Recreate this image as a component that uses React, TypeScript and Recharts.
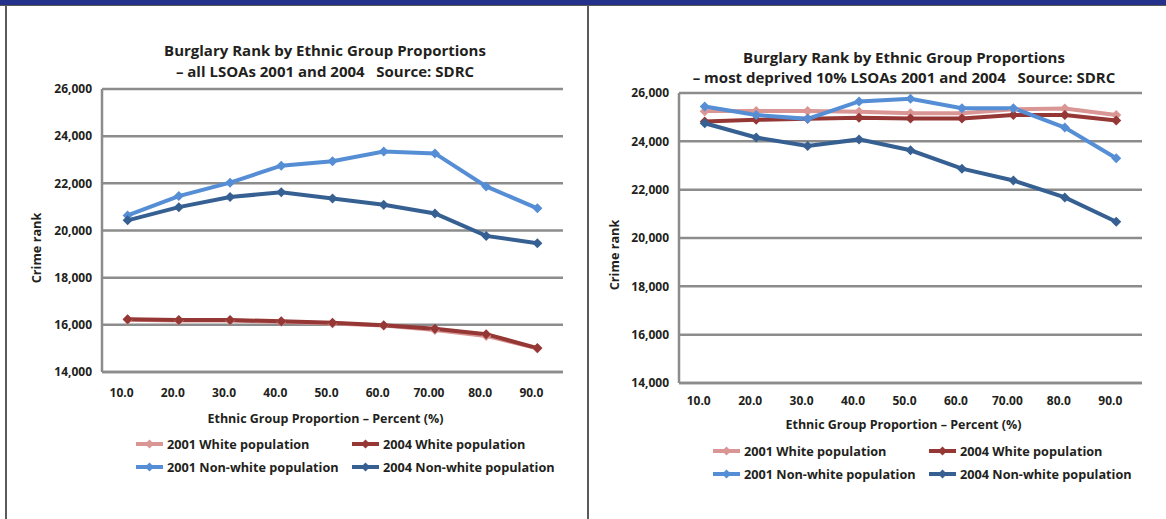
import { LineChart, Line, XAxis, YAxis, CartesianGrid, Label } from 'recharts';

const categories = ['10.0', '20.0', '30.0', '40.0', '50.0', '60.0', '70.00', '80.0', '90.0'];
const yTicks = [14000, 16000, 18000, 20000, 22000, 24000, 26000];

// all LSOAs
const allWhite2001 = [16220, 16180, 16180, 16130, 16060, 15970, 15780, 15530, 15000];
const allWhite2004 = [16240, 16200, 16200, 16155, 16085, 15985, 15830, 15605, 15015];
const allNonWhite2001 = [20640, 21460, 22030, 22750, 22940, 23350, 23270, 21870, 20940];
const allNonWhite2004 = [20430, 20990, 21420, 21620, 21360, 21090, 20720, 19770, 19460];

// most deprived 10% LSOAs
const depWhite2001 = [25250, 25260, 25260, 25220, 25160, 25160, 25330, 25360, 25090];
const depWhite2004 = [24820, 24890, 24930, 24980, 24940, 24940, 25090, 25090, 24860];
const depNonWhite2001 = [25440, 25090, 24930, 25650, 25760, 25370, 25370, 24570, 23300];
const depNonWhite2004 = [24750, 24160, 23810, 24080, 23630, 22870, 22380, 21680, 20670];

const seriesNames = ['2001 White population', '2004 White population', '2001 Non-white population', '2004 Non-white population'];
const seriesColors = ['#d99694', '#953735', '#558ed5', '#376092'];

const FONT = '"Open Sans", sans-serif';
const INK = '#231f20';
const GRID = '#8c8c8c';

type Layout = {
  left: number;
  width: number;
  plotLeft: number;
  plotRight: number;
  plotTop: number;
  plotBottom: number;
  tickBaseline: number;
  xTitleBaseline: number;
  yTitleX: number;
  yTitleY: number;
  titleX: number;
  titleY: [number, number];
  legendRows: [number, number];
  legendCols: [number, number];
};

function Diamond({ cx, cy, fill, r = 5 }: { cx?: number; cy?: number; fill: string; r?: number }) {
  if (cx == null || cy == null) return null;
  return <path d={`M${cx},${cy - r}L${cx + r},${cy}L${cx},${cy + r}L${cx - r},${cy}Z`} fill={fill} />;
}

function LegendItem({ x, y, color, name }: { x: number; y: number; color: string; name: string }) {
  return (
    <div style={{ position: 'absolute', left: x, top: y - 9, height: 18, display: 'flex', alignItems: 'center', whiteSpace: 'nowrap' }}>
      <svg width={30} height={12} style={{ marginRight: 2 }}>
        <line x1={1} y1={6} x2={28} y2={6} stroke={color} strokeWidth={4} />
        <Diamond cx={14.5} cy={6} fill={color} r={4.5} />
      </svg>
      <span style={{ fontFamily: FONT, fontWeight: 700, fontSize: 12.7, color: INK }}>{name}</span>
    </div>
  );
}

function BurglaryChart({ values, title, L }: { values: number[][]; title: [string, string]; L: Layout }) {
  const data = categories.map((cat, i) => ({
    cat,
    s0: values[0][i],
    s1: values[1][i],
    s2: values[2][i],
    s3: values[3][i],
  }));
  const half = (L.plotRight - L.plotLeft) / categories.length / 2;
  const xAxisHeight = 60;
  const chartHeight = 519;

  return (
    <div style={{ position: 'absolute', left: L.left, top: 0, width: L.width, height: chartHeight }}>
      {title.map((t, i) => (
        <div
          key={t}
          style={{
            position: 'absolute',
            left: L.titleX - 300,
            width: 600,
            top: L.titleY[i] - 10,
            height: 20,
            lineHeight: '20px',
            textAlign: 'center',
            fontFamily: FONT,
            fontWeight: 700,
            fontSize: 15,
            color: INK,
            whiteSpace: 'pre',
          }}
        >
          {t}
        </div>
      ))}
      <LineChart
        width={L.width}
        height={chartHeight}
        data={data}
        margin={{ top: L.plotTop, right: L.width - L.plotRight, left: 0, bottom: chartHeight - L.plotBottom - xAxisHeight }}
      >
        <CartesianGrid vertical={false} stroke={GRID} strokeWidth={2.5} />
        <XAxis
          dataKey="cat"
          height={xAxisHeight}
          interval={0}
          padding={{ left: half, right: half }}
          axisLine={{ stroke: GRID, strokeWidth: 2.5 }}
          tickLine={false}
          tick={({ x, payload }: any) => (
            <text
              x={x - 6}
              y={L.tickBaseline}
              textAnchor="middle"
              fill={INK}
              fontFamily={FONT}
              fontWeight={700}
              fontSize={12}
            >
              {payload.value}
            </text>
          )}
        >
          <Label
            content={() => (
              <text
                x={(L.plotLeft + L.plotRight) / 2 - 7}
                y={L.xTitleBaseline}
                textAnchor="middle"
                fill={INK}
                fontFamily={FONT}
                fontWeight={700}
                fontSize={12.5}
              >
                Ethnic Group Proportion – Percent (%)
              </text>
            )}
          />
        </XAxis>
        <YAxis
          width={L.plotLeft}
          domain={[14000, 26000]}
          ticks={yTicks}
          interval={0}
          tickFormatter={(v: number) => v.toLocaleString('en-US')}
          axisLine={{ stroke: GRID, strokeWidth: 2.5 }}
          tickLine={false}
          tickMargin={4}
          tick={{ fill: INK, fontFamily: FONT, fontWeight: 700, fontSize: 12 }}
        >
          <Label
            content={() => (
              <text
                x={L.yTitleX}
                y={L.yTitleY}
                transform={`rotate(-90 ${L.yTitleX} ${L.yTitleY})`}
                textAnchor="middle"
                dominantBaseline="central"
                fill={INK}
                fontFamily={FONT}
                fontWeight={700}
                fontSize={12.7}
              >
                Crime rank
              </text>
            )}
          />
        </YAxis>
        {seriesColors.map((color, k) => (
          <Line
            key={k}
            dataKey={`s${k}`}
            name={seriesNames[k]}
            stroke={color}
            strokeWidth={4}
            isAnimationActive={false}
            dot={(p: any) => <Diamond key={`d${k}-${p.index}`} cx={p.cx} cy={p.cy} fill={color} />}
            activeDot={false}
          />
        ))}
      </LineChart>
      {seriesNames.map((name, k) => (
        <LegendItem
          key={name}
          x={L.legendCols[k % 2]}
          y={L.legendRows[Math.floor(k / 2)]}
          color={seriesColors[k]}
          name={name}
        />
      ))}
    </div>
  );
}

const leftLayout: Layout = {
  left: 0,
  width: 588,
  plotLeft: 102,
  plotRight: 563,
  plotTop: 89,
  plotBottom: 372,
  tickBaseline: 397,
  xTitleBaseline: 423,
  yTitleX: 36,
  yTitleY: 248,
  titleX: 325,
  titleY: [50, 71],
  legendRows: [444, 467],
  legendCols: [135, 351],
};

const rightLayout: Layout = {
  left: 589,
  width: 577,
  plotLeft: 90,
  plotRight: 553,
  plotTop: 93,
  plotBottom: 383,
  tickBaseline: 405,
  xTitleBaseline: 429,
  yTitleX: 25,
  yTitleY: 255,
  titleX: 315,
  titleY: [57, 77],
  legendRows: [451, 474],
  legendCols: [123, 339],
};

export default function App() {
  return (
    <div style={{ position: 'absolute', left: 0, top: 0, width: 1166, height: 519, background: '#fff', overflow: 'hidden' }}>
      <div style={{ position: 'absolute', left: 0, top: 0, width: 1166, height: 5, background: '#23318b' }} />
      <div style={{ position: 'absolute', left: 0, top: 5, width: 1166, height: 1, background: '#5a5a5a' }} />
      <div style={{ position: 'absolute', left: 5, top: 5, width: 2, height: 514, background: '#5a5a5a' }} />
      <div style={{ position: 'absolute', left: 587, top: 5, width: 2, height: 514, background: '#5a5a5a' }} />
      <BurglaryChart
        values={[allWhite2001, allWhite2004, allNonWhite2001, allNonWhite2004]}
        title={['Burglary Rank by Ethnic Group Proportions', '– all LSOAs 2001 and 2004   Source: SDRC']}
        L={leftLayout}
      />
      <BurglaryChart
        values={[depWhite2001, depWhite2004, depNonWhite2001, depNonWhite2004]}
        title={['Burglary Rank by Ethnic Group Proportions', '– most deprived 10% LSOAs 2001 and 2004   Source: SDRC']}
        L={rightLayout}
      />
    </div>
  );
}
